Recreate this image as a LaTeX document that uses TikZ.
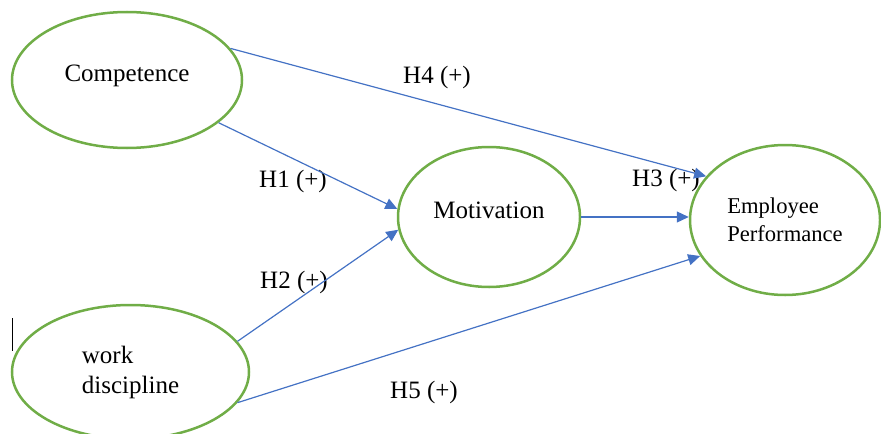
\documentclass[tikz,border=0pt]{standalone}
\usepackage{fontspec}
\setmainfont{Liberation Serif}
\usepackage{tikz}
\usetikzlibrary{arrows.meta, shapes.geometric}
\definecolor{ringgreen}{HTML}{70AD47}
\definecolor{linkblue}{HTML}{4472C4}

\begin{document}
\begin{tikzpicture}[x=0.5pt, y=-0.5pt,
    construct/.style={draw=ringgreen, line width=1.25pt, ellipse, inner sep=0pt, align=left, font=\fontsize{12.5}{15}\selectfont},
    hyp/.style={inner sep=0pt, font=\fontsize{12.5}{15}\selectfont},
    arrow/.style={-{Triangle[length=6pt, width=5.5pt]}, line width=0.6pt, color=linkblue}
]
\clip (0,0) rectangle (881,433);
\node[construct, minimum width=115pt, minimum height=68pt, text depth=6.7pt] (comp) at (127, 80) {Competence};
\node[construct, minimum width=118.5pt, minimum height=67pt] (disc) at (130.5, 372) {work\\discipline};
\node[construct, minimum width=91pt, minimum height=70pt, text depth=7pt] (motiv) at (489, 217) {Motivation};
\node[construct, minimum width=95pt, minimum height=75pt, font=\fontsize{11.3}{14}\selectfont] (perf) at (785, 220) {Employee\\Performance};

\node[hyp] (h4) at (437, 77) {H4 (+)};
\node[hyp] (h1) at (293, 181) {H1 (+)};
\node[hyp] (h2) at (294, 282) {H2 (+)};
\node[hyp] (h3) at (666, 180) {H3 (+)};
\node[hyp] (h5) at (424, 392) {H5 (+)};

\draw[arrow] (comp.17) -- (perf.151);
\draw[arrow] (comp.335) -- (motiv.175);
\draw[arrow] (disc.16) -- (motiv.188);
\draw[arrow] (motiv.east) -- (motiv.east -| perf.west);
\draw[arrow] (disc.344) -- (perf.203);

\draw[line width=0.5pt] (12, 318) -- (12, 351);
\end{tikzpicture}
\end{document}
